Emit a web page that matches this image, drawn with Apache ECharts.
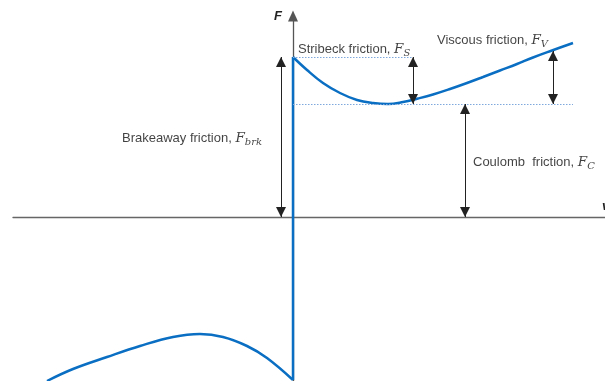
<!DOCTYPE html>
<html><head><meta charset="utf-8">
<script src="https://cdn.jsdelivr.net/npm/echarts@6/dist/echarts.min.js"></script>
<style>html,body{margin:0;padding:0;background:#fff}#c{width:605px;height:381px}</style>
</head><body><div id="c"></div>
<script>
// Friction model (arbitrary units: velocity v, force F)
const positiveBranch = [[0,160],[14,147],[30,134],[47,124],[64,117],[80,114],[95,113],[110,115],[125,118.5],[140,122.5],[157,128],[174,134],[190,140],[207,146.5],[224,153],[240,159.5],[259,166.5],[280,174]];
const negativeBranch = [[-246,-164],[-220,-152],[-186,-140],[-153,-129],[-120,-120],[-93,-117],[-70,-120],[-46,-129],[-26,-141],[0,-163]];
const breakawayJump = [[0,-163],[0,160]];
const breakawayLevel = 160;
const coulombLevel = 113;
const stribeckLevelEnd = 120;
const coulombLevelEnd = 280;
// double arrows: velocity position, F from, F to
const arrowNames = ['Brakeaway', 'Stribeck', 'Viscous', 'Coulomb'];
const arrowV = [-12, 120, 260, 172];
const arrowFrom = [0, 113, 113, 0];
const arrowTo = [160, 160, 166, 113];
// annotation labels: anchor [v, F] of each text, and their text
const labelNames = ['Stribeck friction, ', 'Viscous friction, ', 'Brakeaway friction, ', 'Coulomb  friction, '];
const labelSubs = ['S', 'V', 'brk', 'C'];
const labelV = [5, 144, -171, 180];
const labelF = [168, 177, 79, 55];

const blue = '#0a6fc2';
// triangle whose tip sits at the symbol centre (so arrow tips land on the end points)
const tipArrow = 'path://M5,10L10,20L0,20ZM5,0L5,0';
const chart = echarts.init(document.getElementById('c'), null, {renderer: 'canvas'});

const arrowData = arrowV.map((v, i) => [{coord: [v, arrowFrom[i]]}, {coord: [v, arrowTo[i]]}]);
const levelData = [
  [{coord: [0, breakawayLevel]}, {coord: [stribeckLevelEnd, breakawayLevel]}],
  [{coord: [0, coulombLevel]}, {coord: [coulombLevelEnd, coulombLevel]}]
];
const labelData = labelNames.map((n, i) => ({
  value: [labelV[i], labelF[i]],
  label: {formatter: '{t|' + n + '}{m|F}{s|' + labelSubs[i] + '}'}
}));

const lineStyleCurve = {color: blue, width: 2.5};
chart.setOption({
  animation: false,
  grid: {left: 13, right: 0, top: 16, bottom: 0, outerBoundsMode: 'none', containLabel: false},
  xAxis: {
    type: 'value', min: -280, max: 312,
    axisLine: {onZero: true, symbol: ['none', 'none'], lineStyle: {color: '#666', width: 1.3}},
    axisTick: {show: false}, axisLabel: {show: false}, splitLine: {show: false},
    name: 'v', nameLocation: 'end', nameGap: -3,
    nameTextStyle: {fontStyle: 'italic', fontWeight: 'bold', fontSize: 13, color: '#222', align: 'left', verticalAlign: 'bottom', padding: [0, 0, 4, 0], fontFamily: 'Liberation Sans'}
  },
  yAxis: {
    type: 'value', min: -164, max: 201,
    axisLine: {onZero: true, symbol: ['none', 'triangle'], symbolSize: [10, 11], lineStyle: {color: '#555', width: 1.3}},
    axisTick: {show: false}, axisLabel: {show: false}, splitLine: {show: false},
    name: 'F', nameLocation: 'end', nameGap: 0,
    nameTextStyle: {fontStyle: 'italic', fontWeight: 'bold', fontSize: 13, color: '#222', align: 'right', verticalAlign: 'middle', padding: [0, 11, 0, 0], fontFamily: 'Liberation Sans'}
  },
  series: [
    {type: 'line', name: 'negative', data: negativeBranch, smooth: 0.4, showSymbol: false, lineStyle: lineStyleCurve, itemStyle: {color: blue}},
    {type: 'line', name: 'jump', data: breakawayJump, showSymbol: false, lineStyle: lineStyleCurve, itemStyle: {color: blue}},
    {type: 'line', name: 'positive', data: positiveBranch, smooth: 0.4, showSymbol: false, lineStyle: lineStyleCurve, itemStyle: {color: blue}},
    {type: 'line', name: 'levels', data: [], markLine: {silent: true, symbol: ['none', 'none'], label: {show: false},
      lineStyle: {color: '#7fa9dc', width: 1, type: [1.5, 1.5]}, emphasis: {disabled: true}, data: levelData}},
    {type: 'line', name: 'arrows', data: [], markLine: {silent: true, symbol: [tipArrow, tipArrow], symbolSize: [10, 20], label: {show: false},
      lineStyle: {color: '#222', width: 1, type: 'solid'}, emphasis: {disabled: true}, data: arrowData}},
    {type: 'scatter', name: 'labels', data: labelData, symbolSize: 0, silent: true,
      label: {show: true, position: 'right', distance: 0,
        rich: {
          t: {fontFamily: 'Liberation Sans', fontSize: 13, color: '#111', lineHeight: 18},
          m: {fontFamily: 'DejaVu Serif', fontStyle: 'italic', fontSize: 13.5, color: '#111', lineHeight: 18},
          s: {fontFamily: 'DejaVu Serif', fontStyle: 'italic', fontSize: 10, color: '#111', lineHeight: 10, verticalAlign: 'bottom'}
        }}}
  ]
});
</script></body></html>
